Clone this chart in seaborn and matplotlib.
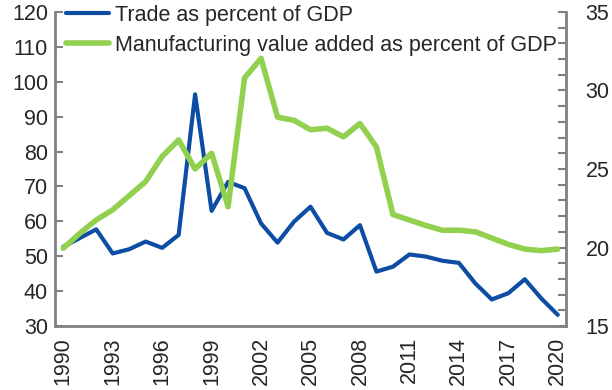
import numpy as np
import pandas as pd
import matplotlib
matplotlib.use("Agg")
import matplotlib.pyplot as plt
import seaborn as sns

years = list(range(1990, 2021))
trade = [52.7, 55.2, 57.7, 50.8, 52.0, 54.2, 52.4, 56.1, 96.4, 63.0,
         71.3, 69.5, 59.4, 53.9, 59.9, 64.2, 56.7, 54.8, 58.9, 45.6,
         47.0, 50.5, 49.9, 48.7, 48.1, 42.2, 37.6, 39.4, 43.4, 37.9, 33.2]
manuf = [19.95, 20.9, 21.75, 22.4, 23.3, 24.2, 25.8, 26.85, 25.0, 26.0,
         22.6, 30.8, 32.05, 28.3, 28.1, 27.5, 27.6, 27.05, 27.9, 26.4,
         22.1, 21.75, 21.4, 21.1, 21.1, 21.0, 20.6, 20.2, 19.9, 19.8, 19.9]
label_trade = "Trade as percent of GDP"
label_manuf = "Manufacturing value added as percent of GDP"

df = pd.DataFrame({"year": years, "trade": trade, "manuf": manuf})

def main():
    sns.set_style("white")
    plt.rcParams["font.family"] = ["Liberation Sans", "DejaVu Sans"]

    blue = "#0E4DA4"
    green = "#92D050"
    grey = "#808080"
    fs = 15.5

    fig = plt.figure(figsize=(6.12, 3.9), dpi=100)
    ax = fig.add_axes([55 / 612, 64 / 390, 511 / 612, 314 / 390])
    ax2 = ax.twinx()

    sns.lineplot(data=df, x="year", y="trade", ax=ax, color=blue, lw=3,
                 label=label_trade, legend=False)
    sns.lineplot(data=df, x="year", y="manuf", ax=ax2, color=green, lw=4,
                 label=label_manuf, legend=False)

    ax.set_xlim(1989.5, 2020.5)
    ax.set_ylim(30, 120)
    ax2.set_ylim(15, 35)
    ax.set_xlabel("")
    ax.set_ylabel("")
    ax2.set_ylabel("")

    # labels every 3 years, tick marks between the years
    ax.set_xticks(np.arange(1990, 2021, 3))
    ax.set_xticklabels([str(y) for y in range(1990, 2021, 3)], rotation=90)
    ax.set_xticks(np.arange(1989.5, 2021, 1), minor=True)
    ax.tick_params(axis="x", which="major", length=0, labelsize=fs, pad=8)
    ax.tick_params(axis="x", which="minor", direction="in", length=6,
                   width=1.5, color=grey)

    ax.set_yticks(np.arange(30, 121, 10))
    ax.tick_params(axis="y", direction="in", length=6, width=1.5, color=grey,
                   labelsize=fs, left=True, pad=5)
    ax2.set_yticks(np.arange(15, 36, 5))
    ax2.set_yticks(np.arange(15, 36, 1), minor=True)
    ax2.tick_params(axis="y", which="both", direction="in", length=6,
                    width=1.5, color=grey, labelsize=fs, right=True, pad=14)

    for a in (ax, ax2):
        a.spines["top"].set_visible(False)
        for s in ("left", "right", "bottom"):
            a.spines[s].set_color(grey)
            a.spines[s].set_linewidth(2)
    ax2.spines["left"].set_visible(False)
    ax2.spines["bottom"].set_visible(False)
    ax.spines["right"].set_visible(False)

    h1, l1 = ax.get_legend_handles_labels()
    h2, l2 = ax2.get_legend_handles_labels()
    ax2.legend(h1 + h2, l1 + l2, loc="upper left", frameon=False,
               fontsize=fs, handlelength=2.0, handletextpad=0.25,
               labelspacing=0.4, borderaxespad=0,
               bbox_to_anchor=(0.005, 1.05))

    fig.savefig("out.png", dpi=100)

if __name__ == "__main__":
    main()
